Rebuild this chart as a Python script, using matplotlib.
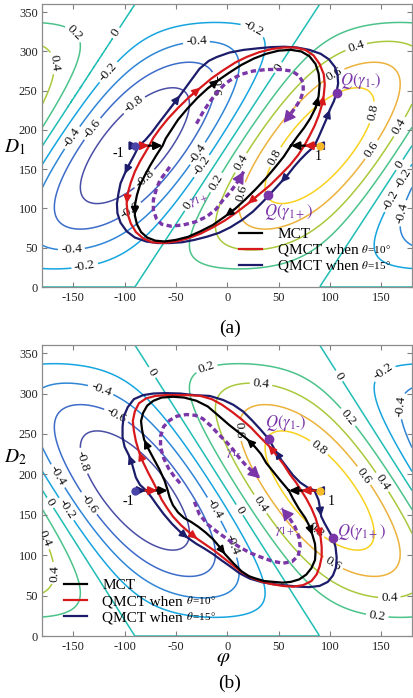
import numpy as np
import matplotlib
matplotlib.use("Agg")
import matplotlib.pyplot as plt
from matplotlib.transforms import Bbox

plt.rcParams['font.family'] = ['Liberation Serif', 'DejaVu Serif']
plt.rcParams['mathtext.fontset'] = 'stix'
plt.rcParams['axes.unicode_minus'] = False

# ---------------- data ----------------
levels = [-0.8, -0.6, -0.4, -0.2, 0.0, 0.2, 0.4, 0.6, 0.8]
level_colors = ['#4a4fa6', '#3d6cc9', '#2f86d6', '#17a5df', '#1fbdb4',
                '#4cc38a', '#a9c93c', '#ecb23c', '#f7d21f']

phi_grid = np.arange(-180, 181, 1.0)
D_grid = np.arange(0, 361, 1.0)

xticks = [-150, -100, -50, 0, 50, 100, 150]
yticks = [0, 50, 100, 150, 200, 250, 300, 350]

# start points (-1 and 1)
dots_phi = [-90, 90]
dots_D = [180, 180]
dots_text = ['-1', '1']

legend_names = ['MCT', 'QMCT when', 'QMCT when']
legend_theta = [None, r'$\theta\,$=10°', r'$\theta\,$=15°']

# ---- panel (a) trajectories ----
a_mct_phi = [62, 68, 75, 81, 86, 89, 90, 89, 86, 80, 72, 62, 50, 38, 26, 14, 2, -8, -19, -29,
             -39, -48, -55, -60, -63, -69, -75, -80, -85, -88, -90, -90, -88, -84, -78, -70, -61,
             -50, -38, -26, -14, -2, 8, 18, 28, 38, 47, 55]
a_mct_D = [180, 191, 203, 215, 228, 243, 258, 272, 284, 294, 300, 302, 301, 297, 291, 283, 273,
           264, 253, 241, 227, 213, 199, 189, 180, 168, 155, 143, 130, 117, 104, 91, 80, 70, 63,
           59, 58, 60, 64, 71, 79, 90, 100, 112, 125, 139, 153, 166]

a_q10_phi = [75, 80, 85, 89, 92, 94, 95, 94, 90, 84, 76, 66, 55, 43, 31, 19, 8, -4, -15, -26,
             -37, -48, -58, -66, -72, -76, -80, -85, -90, -94, -97, -98, -97, -94, -89, -82, -73,
             -62, -50, -38, -26, -14, -2, 9, 20, 31, 42, 52, 61, 69]
a_q10_D = [180, 192, 205, 218, 231, 244, 258, 271, 284, 295, 302, 305, 305, 303, 299, 293, 286,
           276, 266, 254, 242, 228, 214, 201, 190, 180, 171, 160, 147, 133, 119, 106, 93, 81, 70,
           62, 57, 56, 58, 62, 68, 76, 85, 95, 106, 118, 130, 143, 155, 168]

a_q15_phi = [85, 89, 93, 97, 100, 104, 106.5, 108, 107.5, 105, 99, 91, 80, 68, 56, 43, 30, 16, 2,
             -10, -18, -27, -36, -46, -56, -66, -74, -80, -86, -91, -96, -100, -104, -106, -107.5,
             -107, -104, -98, -90, -79, -68, -56, -44, -32, -20, -8, 3, 14, 25, 35, 45, 52, 59,
             65, 71, 77, 82]
a_q15_D = [180, 191, 203, 215, 226, 237, 248, 259, 270, 280, 290, 297, 302, 305, 306, 305.5, 304,
           302, 298.5, 293, 288, 278, 262, 244, 227, 210, 196, 187, 180, 167, 155, 144, 132, 119,
           106, 94, 82, 71, 63, 58, 56, 56, 57, 60, 64, 69, 76, 85, 96, 109, 123, 133, 143, 153,
           162, 170, 176]

a_gm_phi = [-30, -24, -17, -10, -2, 6, 14, 25, 38, 52, 63, 70, 74, 74, 71, 66, 61, 55]
a_gm_D = [208, 222, 236, 248, 259, 266, 271, 275, 277, 277, 275, 269, 260, 249, 238, 228, 219, 209]
a_gp_phi = [-56, -61, -65.6, -69, -72, -72, -69, -64, -55, -43, -31, -20, -11, -4, 3, 9, 13, 16]
a_gp_D = [153, 144, 136, 125, 111, 98, 87, 80, 77.5, 79, 83, 89.6, 99, 111, 121, 132, 140, 147]

a_Q_phi = [106.6, 40]
a_Q_D = [247, 117]

# ---- panel (b) trajectories ----
b_mct_phi = [60, 64, 70, 76, 80, 83, 85.5, 86, 85.5, 82, 77, 70, 62, 54, 45, 36, 28, 21, 14, 6,
             -2, -8, -14, -21, -28, -35, -42, -48, -53, -56, -58, -61, -66, -72, -77, -81, -83,
             -84, -82, -78, -72, -64, -53, -42, -30, -19, -8, 2, 11, 19, 27, 33, 38, 45, 52]
b_mct_D = [180, 170, 157, 146, 136, 125, 114, 104, 94, 84, 76, 70, 67, 66, 67, 68, 71, 74, 80,
           90, 101, 111, 120, 128, 135, 141, 146, 153, 162, 171, 180, 192, 206, 220, 232, 243,
           255, 266, 276, 285, 291, 295, 296, 295, 291, 284, 272, 261, 252, 244, 234, 225, 214,
           203, 192]

b_q10_phi = [72, 77, 82, 86, 89, 91, 92, 92, 90, 87, 82, 74, 64, 54, 44, 34, 24, 14, 5, -4,
             -13, -21, -29, -37, -45, -53, -59, -64, -68, -72, -77, -82, -86, -89, -91, -92, -90,
             -86, -79, -70, -60, -48, -37, -26, -15, -5, 5, 14, 23, 32, 40, 48, 55, 61, 67]
b_q10_D = [180, 170, 158, 146, 134, 122, 110, 98, 86, 76, 68, 63, 61, 62, 64, 67, 72, 79, 88,
           97, 106, 113, 120, 128, 137, 148, 159, 169, 180, 190, 202, 215, 228, 241, 254, 266,
           278, 288, 294, 297, 298, 298, 298, 297, 293, 286, 277, 268, 258, 246, 236, 224, 212,
           200, 190]

b_q15_phi = [85, 89, 90.5, 91.5, 95, 99, 103, 105.5, 106.6, 106, 103, 98, 90, 80, 70, 58, 46,
             34, 22, 12, 3, -6, -14, -22, -30, -38, -46, -54, -62, -69, -74, -79, -85, -89, -91,
             -93, -96, -100, -102, -102, -101, -97, -91, -82, -72, -60, -46, -32, -17, -4, 6,
             15.6, 24, 32, 40.6, 46.5, 52, 58, 64, 71, 78]
b_q15_D = [180, 168, 157, 148, 139, 130, 121, 110, 97, 85, 75, 67, 62, 60.5, 61, 62.5, 64, 66.5,
           71, 77.6, 86, 94, 101.5, 108, 114, 121, 129, 139, 151, 163, 172, 180, 187, 196, 205,
           214, 224, 234, 246, 259, 271, 283, 293, 298, 300, 300.5, 300, 298, 297, 292, 286,
           277.6, 267, 256, 243.4, 230, 219, 209, 199, 190, 184]

b_gm_phi = [-46, -52, -57, -62, -65, -65, -62, -56, -49, -40, -31, -24, -16, -8, 0, 6, 12, 19,
            26, 32]
b_gm_D = [189, 198, 207, 220, 234, 247, 259, 267, 272, 274, 273, 269, 260, 249, 239, 230, 220,
          210, 202, 195]
b_gp_phi = [-32, -27, -19, -10, 1, 12, 22, 32, 43, 54, 63, 69, 71, 70, 66, 60, 53]
b_gp_D = [166, 150, 138, 129, 119, 110, 103, 98, 93, 90, 92, 99, 110, 122, 135, 147, 158]

b_Q_phi = [40.6, 103]
b_Q_D = [243.4, 121]

# ---------------- styles / layout ----------------
C_MCT, C_Q10, C_Q15, C_PUR = 'black', '#d7191c', '#1c1c6b', '#7a35a8'
DOT_COLORS = ['#4a45a8', '#f6b928']
HEAD = '-|>,head_length=0.55,head_width=0.26'


def field_a(p, d):
    return np.sin(np.deg2rad(d / 2)) * np.sin(np.deg2rad(p + 90 - d / 2))


def field_b(p, d):
    return np.sin(np.deg2rad(d / 2)) * np.sin(np.deg2rad(p + d / 2 - 90))


def draw_contours(ax, field, label_pos):
    P, Dm = np.meshgrid(phi_grid, D_grid)
    Z = field(P, Dm)
    # contour the negated field so that the exact-zero boundary row is traced
    # where the field is negative (MATLAB-like behaviour)
    neg_levels = sorted(-l for l in levels)
    neg_colors = level_colors[::-1]
    cs = ax.contour(P, Dm, -Z, levels=neg_levels, colors=neg_colors,
                    linewidths=1.1, zorder=1)
    ax.clabel(cs, manual=label_pos, inline=True, inline_spacing=3, colors='#111111',
              fmt=lambda v: '%g' % (0.0 - v), fontsize=9.5)


def draw_loop(ax, xs, ys, color, arrows, lw=1.6, z=4):
    ax.plot(list(xs) + [xs[0]], list(ys) + [ys[0]], color=color, lw=lw,
            zorder=z, solid_joinstyle='round')
    n = len(xs)
    for i, d in arrows:
        j = (i - d) % n
        ax.annotate('', xy=(xs[i], ys[i]), xytext=(xs[j], ys[j]), zorder=z + 1,
                    arrowprops=dict(arrowstyle=HEAD, color=color, lw=1.2, shrinkA=0,
                                    shrinkB=0, mutation_scale=9))


def draw_start(ax, loops):
    # loops: list of (xs, ys, color, right_idx, left_idx) drawn longest first
    for xs, ys, color, ri, li in loops:
        for k, idx in ((1, ri), (0, li)):
            ax.annotate('', xy=(xs[idx], ys[idx]), xytext=(dots_phi[k], dots_D[k]),
                        zorder=6,
                        arrowprops=dict(arrowstyle=HEAD, color=color, lw=1.6, shrinkA=0,
                                        shrinkB=0, mutation_scale=9))
    for k in range(2):
        ax.plot(dots_phi[k], dots_D[k], 'o', color=DOT_COLORS[k], ms=5, zorder=7)


def draw_dashed(ax, xs, ys):
    ax.plot(xs, ys, color=C_PUR, lw=2.4, ls=(0, (1.6, 1.0)), zorder=5)
    ax.annotate('', xy=(xs[-1], ys[-1]), xytext=(xs[-2], ys[-2]), zorder=6,
                arrowprops=dict(arrowstyle='-|>,head_length=0.6,head_width=0.32',
                                color=C_PUR, lw=1.0, shrinkA=0, shrinkB=0,
                                mutation_scale=12))


def style_axes(ax):
    ax.set_xlim(-180, 180)
    ax.set_ylim(0, 360)
    ax.set_xticks(xticks)
    ax.set_yticks(yticks)
    ax.tick_params(direction='in', top=True, right=True, length=3.5, width=0.8,
                   colors='#808080', labelcolor='#222222', labelsize=9)
    for s in ax.spines.values():
        s.set_color('#8c8c8c')
        s.set_linewidth(0.9)


def add_legend(ax, anchor):
    handles = [plt.Line2D([], [], color=c, lw=1.6) for c in (C_MCT, C_Q10, C_Q15)]
    leg = ax.legend(handles, legend_names, loc='lower left', bbox_to_anchor=anchor,
                    frameon=False, fontsize=11, handlelength=1.5, handletextpad=1.0,
                    labelspacing=0.15, borderpad=0, borderaxespad=0)
    return leg


fig = plt.figure(figsize=(4.13, 6.98), dpi=100)
axA = fig.add_axes([0.1029, 0.5888, 0.8947, 0.4050])
axB = fig.add_axes([0.1029, 0.0888, 0.8947, 0.4169])

# ---------------- panel (a) ----------------
lab_a = [(-152, 319), (-171, 285), (-110, 325), (-116, 274), (-152, 191), (-132, 202),
         (-92, 234), (-30, 310), (24, 325), (48, 281), (103, 274), (126, 304), (146, 221),
         (136, 179), (168, 204), (165, 158), (170, 140), (165, 107), (171, 94), (11, 160),
         (-12, 134), (11, 121), (46, 166), (-36, 102), (-31, 172), (-26, 155), (-10, 257),
         (-82, 140), (-95, 98), (-152, 51), (-139, 28)]
draw_contours(axA, field_a, lab_a)
draw_loop(axA, a_q15_phi, a_q15_D, C_Q15, [(4, 1), (23, -1), (31, 1), (51, -1)])
draw_loop(axA, a_q10_phi, a_q10_D, C_Q10, [(5, 1), (19, -1), (31, 1), (44, -1)])
draw_loop(axA, a_mct_phi, a_mct_D, C_MCT, [(5, 1), (17, -1), (31, 1), (41, -1)])
draw_start(axA, [(a_mct_phi, a_mct_D, C_MCT, 0, 24),
                 (a_q10_phi, a_q10_D, C_Q10, 0, 25),
                 (a_q15_phi, a_q15_D, C_Q15, 0, 28)])
draw_dashed(axA, a_gm_phi, a_gm_D)
draw_dashed(axA, a_gp_phi, a_gp_D)
axA.plot(a_Q_phi, a_Q_D, 'o', color=C_PUR, ms=6, zorder=8)
axA.text(110, 262, r'$Q(\gamma_{1\text{-}})$', color=C_PUR, fontsize=12, va='center', zorder=9)
axA.text(36, 95, r'$Q(\gamma_{1+})$', color=C_PUR, fontsize=12, va='center', zorder=9)
axA.text(-27, 110, r'$\gamma_{1+}$', color=C_PUR, fontsize=10, ha='center', va='center',
         rotation=20, zorder=9)
axA.text(-106, 170, dots_text[0], fontsize=10, ha='center', va='center', zorder=9)
axA.text(89, 166, dots_text[1], fontsize=10, ha='center', va='center', zorder=9)
style_axes(axA)
legA = add_legend(axA, (0.533, 0.05))

# ---------------- panel (b) ----------------
lab_b = [(-72, 327), (-124, 302), (-109, 271), (-142, 216), (-137, 162), (-169, 195),
         (-158, 156), (-174, 164), (-173, 123), (-176, 78), (-20, 331), (33, 313), (113, 325),
         (155, 321), (176, 284), (120, 273), (90, 234), (136, 201), (154, 193), (33, 164),
         (87, 133), (103, 90), (9, 115), (158, 45), (146, 24), (12, 255), (12, 156),
         (-14, 156)]
draw_contours(axB, field_b, lab_b)
draw_loop(axB, b_q15_phi, b_q15_D, C_Q15, [(3, 1), (25, -1), (36, 1), (55, -1)])
draw_loop(axB, b_q10_phi, b_q10_D, C_Q10, [(5, 1), (22, -1), (32, 1), (50, -1)])
draw_loop(axB, b_mct_phi, b_mct_D, C_MCT, [(5, 1), (20, -1), (35, 1), (49, -1)])
draw_start(axB, [(b_mct_phi, b_mct_D, C_MCT, 0, 30),
                 (b_q10_phi, b_q10_D, C_Q10, 0, 28),
                 (b_q15_phi, b_q15_D, C_Q15, 0, 31)])
draw_dashed(axB, b_gm_phi, b_gm_D)
draw_dashed(axB, b_gp_phi, b_gp_D)
axB.plot(b_Q_phi, b_Q_D, 'o', color=C_PUR, ms=6, zorder=8)
axB.text(37, 264, r'$Q(\gamma_{1\text{-}})$', color=C_PUR, fontsize=12, va='center', zorder=9)
axB.text(107, 129, r'$Q(\gamma_{1+})$', color=C_PUR, fontsize=12, va='center', zorder=9)
axB.text(6, 226, r'$\gamma_{1\text{-}}$', color=C_PUR, fontsize=10, ha='center', va='center',
         zorder=9)
axB.text(56, 129, r'$\gamma_{1+}$', color=C_PUR, fontsize=10, ha='center', va='center',
         zorder=9)
axB.text(-96, 166, dots_text[0], fontsize=10, ha='center', va='center', zorder=9)
axB.text(101, 166, dots_text[1], fontsize=10, ha='center', va='center', zorder=9)
style_axes(axB)
legB = add_legend(axB, (0.059, 0.04))

# raised small "theta = ..." after "QMCT when" in each legend
fig.canvas.draw()
renderer = fig.canvas.get_renderer()
inv = fig.transFigure.inverted()
for leg in (legA, legB):
    for txt, th in zip(leg.get_texts(), legend_theta):
        if th is None:
            continue
        bb = txt.get_window_extent(renderer)
        x0, y0 = inv.transform((bb.x1 + 3, bb.y0 + 0.62 * bb.height))
        fig.text(x0, y0, th, fontsize=8, ha='left', va='center', zorder=10)

# axis labels and panel tags
fig.text(15 / 413, 1 - 147 / 698, r'$D_1$', fontsize=14, ha='center', va='center')
fig.text(15 / 413, 1 - 457 / 698, r'$D_2$', fontsize=14, ha='center', va='center')
fig.text(223 / 413, 1 - 659 / 698, r'$\varphi$', fontsize=15, ha='center', va='center')
fig.text(230 / 413, 1 - 328 / 698, '(a)', fontsize=14, ha='center', va='center')
fig.text(230 / 413, 1 - 683 / 698, '(b)', fontsize=14, ha='center', va='center')

fig.savefig('out.png', dpi=100)
